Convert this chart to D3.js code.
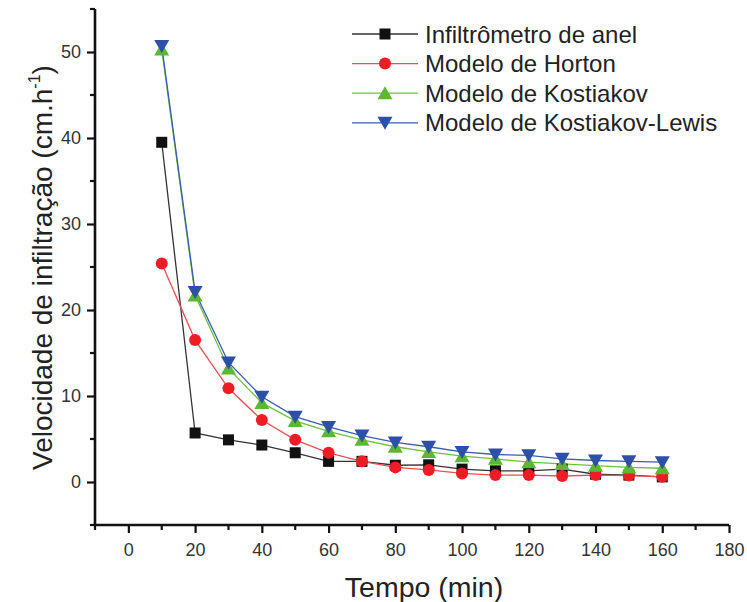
<!DOCTYPE html>
<html>
<head>
<meta charset="utf-8">
<script src="https://cdn.jsdelivr.net/npm/d3@7"></script>
<style>
  body { margin: 0; background: #fff; }
  svg { font-family: "Liberation Sans", Arial, sans-serif; }
</style>
</head>
<body>
<svg id="chart" width="747" height="602"></svg>
<script>
// time (min)
var tempo = [10, 20, 30, 40, 50, 60, 70, 80, 90, 100, 110, 120, 130, 140, 150, 160];

// velocidade de infiltração (cm/h)
var anel = [39.5, 5.7, 4.9, 4.3, 3.4, 2.4, 2.4, 1.95, 2.0, 1.5, 1.3, 1.3, 1.5, 0.9, 0.8, 0.6];
var horton = [25.4, 16.5, 10.9, 7.2, 4.9, 3.4, 2.4, 1.7, 1.4, 1.0, 0.8, 0.8, 0.7, 0.8, 0.75, 0.6];
var kostiakov = [50.3, 21.7, 13.2, 9.2, 7.1, 5.9, 4.9, 4.1, 3.5, 3.0, 2.7, 2.3, 2.1, 1.9, 1.7, 1.6];
var kostLewis = [50.7, 22.1, 13.9, 9.9, 7.6, 6.4, 5.4, 4.6, 4.1, 3.5, 3.2, 3.1, 2.7, 2.5, 2.4, 2.3];

var xTicks = [0, 20, 40, 60, 80, 100, 120, 140, 160, 180];
var yTicks = [0, 10, 20, 30, 40, 50];

var series = [
  { name: "Infiltrômetro de anel", values: anel, color: "#111111", line: "#333333", symbol: "square" },
  { name: "Modelo de Horton", values: horton, color: "#ee1c24", line: "#ee4c54", symbol: "circle" },
  { name: "Modelo de Kostiakov", values: kostiakov, color: "#5cb832", line: "#6cc040", symbol: "up" },
  { name: "Modelo de Kostiakov-Lewis", values: kostLewis, color: "#2c4fa8", line: "#3b5cb0", symbol: "down" }
];

var svg = d3.select("#chart"),
    AXIS = "#111";

var x = d3.scaleLinear().domain([-10, 180]).range([95, 729]);
var y = d3.scaleLinear().domain([-5, 55]).range([525, 9]);

function marker(sel, type, color) {
  if (type == "square") {
    sel.append("rect").attr("x", -5.5).attr("y", -5.5).attr("width", 11).attr("height", 11).attr("fill", color);
  } else if (type == "circle") {
    sel.append("circle").attr("r", 6).attr("fill", color);
  } else if (type == "up") {
    sel.append("path").attr("d", "M0,-7L7.5,6L-7.5,6Z").attr("fill", color);
  } else {
    sel.append("path").attr("d", "M0,7L7.5,-6L-7.5,-6Z").attr("fill", color);
  }
}

// x axis
var gx = svg.append("g").attr("transform", "translate(0," + y(-5) + ")")
  .call(d3.axisBottom(x).tickValues(xTicks).tickSize(8).tickPadding(10));
gx.selectAll(".minor")
  .data(d3.range(-10, 181, 20))
  .enter().append("line").attr("class", "minor")
  .attr("x1", function(d) { return x(d); }).attr("x2", function(d) { return x(d); })
  .attr("y1", 0).attr("y2", 5);
gx.select(".domain").attr("d", "M" + x(-10) + ",0H" + x(180));

// y axis
var gy = svg.append("g").attr("transform", "translate(" + x(-10) + ",0)")
  .call(d3.axisLeft(y).tickValues(yTicks).tickSize(8).tickPadding(6));
gy.selectAll(".minor")
  .data(d3.range(-5, 56, 10))
  .enter().append("line").attr("class", "minor")
  .attr("x1", 0).attr("x2", -5)
  .attr("y1", function(d) { return y(d); }).attr("y2", function(d) { return y(d); });
gy.select(".domain").attr("d", "M0," + y(-5) + "V" + y(55));

[gx, gy].forEach(function(g) {
  g.attr("font-family", null).attr("font-size", null);
  g.select(".domain").attr("stroke", AXIS).attr("stroke-width", 2.6).attr("fill", "none");
  g.selectAll("line").attr("stroke", AXIS).attr("stroke-width", 2.2);
  g.selectAll("text").attr("fill", "#333").attr("font-size", 18);
});

// axis titles
svg.append("text")
  .attr("x", 424).attr("y", 597)
  .attr("text-anchor", "middle").attr("font-size", 28.5).attr("fill", "#222")
  .text("Tempo (min)");

var yt = svg.append("text")
  .attr("transform", "translate(52,470) rotate(-90)")
  .attr("text-anchor", "start").attr("font-size", 28).attr("fill", "#222");
yt.append("tspan").text("Velocidade de infiltração (cm.h");
yt.append("tspan").attr("font-size", 16).attr("dy", -12).text("-1");
yt.append("tspan").attr("dy", 12).text(")");

// series
var line = d3.line()
  .x(function(d) { return x(d[0]); })
  .y(function(d) { return y(d[1]); });

series.forEach(function(s) {
  var pts = tempo.map(function(t, i) { return [t, s.values[i]]; });
  svg.append("path")
    .attr("d", line(pts))
    .attr("fill", "none")
    .attr("stroke", s.line)
    .attr("stroke-width", 1.3);
});

series.forEach(function(s) {
  svg.append("g").selectAll("g")
    .data(tempo.map(function(t, i) { return [t, s.values[i]]; }))
    .enter().append("g")
    .attr("transform", function(d) { return "translate(" + x(d[0]) + "," + y(d[1]) + ")"; })
    .each(function() { marker(d3.select(this), s.symbol, s.color); });
});

// legend
var legend = svg.append("g").attr("transform", "translate(352,34)");
series.forEach(function(s, i) {
  var row = legend.append("g").attr("transform", "translate(0," + i * 29.6 + ")");
  row.append("line").attr("x1", 0).attr("x2", 66).attr("y1", 0).attr("y2", 0)
    .attr("stroke", s.line).attr("stroke-width", 1.3);
  marker(row.append("g").attr("transform", "translate(33,0)"), s.symbol, s.color);
  row.append("text").attr("x", 73).attr("y", 8.5)
    .attr("font-size", 24).attr("fill", "#222")
    .text(s.name);
});
</script>
</body>
</html>
